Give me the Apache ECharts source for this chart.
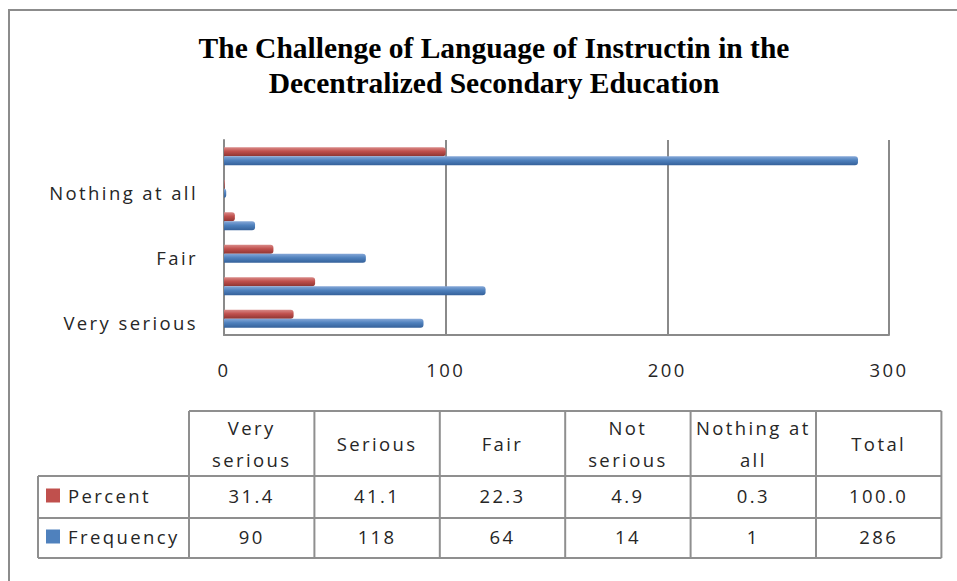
<!DOCTYPE html>
<html><head><meta charset="utf-8">
<script src="https://cdn.jsdelivr.net/npm/echarts@6/dist/echarts.min.js"></script>
<style>
html,body{margin:0;padding:0;background:#fff;}
#main{width:957px;height:581px;}
#main text{letter-spacing:2.4px;}
#main text[style*="Serif"]{letter-spacing:0;}
</style></head><body><div id="main"></div>
<script>
const titleLines = ['The Challenge of Language of Instructin in the', 'Decentralized Secondary Education'];
const categories = ['Very serious', 'Serious', 'Fair', 'Not serious', 'Nothing at all', 'Total'];
const tableHeaders = ['Very\nserious', 'Serious', 'Fair', 'Not\nserious', 'Nothing at\nall', 'Total'];
const seriesNames = ['Percent', 'Frequency'];
const percentValues = [31.4, 41.1, 22.3, 4.9, 0.3, 100.0];
const frequencyValues = [90, 118, 64, 14, 1, 286];
const percentLabels = ['31.4', '41.1', '22.3', '4.9', '0.3', '100.0'];
const frequencyLabels = ['90', '118', '64', '14', '1', '286'];
const xMin = 0, xMax = 300, xInterval = 100;
const seriesColors = ['#C0504D', '#4F81BD'];

const sansFont = 'Open Sans';
const textColor = '#262626';
const lineColor = '#8f8f8f';

function grad(c1, c2, c3) {
  return new echarts.graphic.LinearGradient(0, 0, 0, 1, [
    {offset: 0, color: c1}, {offset: 0.45, color: c2}, {offset: 1, color: c3}
  ]);
}
const barFills = [grad('#d98a88', '#c0504d', '#8e3532'), grad('#86a8d8', '#4f81bd', '#35619a')];

// table geometry
const tblLeft = 38, colStart = 189, colW = 125.4, nCols = tableHeaders.length;
const rowY = [411, 476, 518, 558];
const colEnd = colStart + colW * nCols;
const els = [];
els.push({type: 'rect', silent: true, z: 0, shape: {x: 9, y: 10, width: 1000, height: 1000},
  style: {fill: 'none', stroke: '#8c8c8c', lineWidth: 2}});
function hline(x1, x2, y) { els.push({type: 'line', silent: true, shape: {x1, y1: y, x2, y2: y}, style: {stroke: lineColor, lineWidth: 2}}); }
function vline(x, y1, y2) { els.push({type: 'line', silent: true, shape: {x1: x, y1, x2: x, y2}, style: {stroke: lineColor, lineWidth: 2}}); }
hline(colStart, colEnd, rowY[0]);
hline(tblLeft, colEnd, rowY[1]);
hline(tblLeft, colEnd, rowY[2]);
hline(tblLeft, colEnd, rowY[3]);
vline(tblLeft, rowY[1], rowY[3]);
for (let i = 0; i <= nCols; i++) vline(colStart + colW * i, rowY[0], rowY[3]);
function cellText(txt, cx, cy, align) {
  els.push({type: 'text', silent: true, x: cx, y: cy,
    style: {text: txt, font: '18.5px "' + sansFont + '"', fill: textColor, align: align || 'center', verticalAlign: 'middle', lineHeight: 32}});
}
tableHeaders.forEach((h, i) => cellText(h, colStart + colW * (i + 0.5), (rowY[0] + rowY[1]) / 2));
const rowData = [percentLabels, frequencyLabels];
rowData.forEach((row, r) => {
  const cy = (rowY[r + 1] + rowY[r + 2]) / 2 - 1.5;
  row.forEach((v, i) => cellText(v, colStart + colW * (i + 0.5), cy));
  els.push({type: 'rect', silent: true, shape: {x: 46, y: cy - 7, width: 14, height: 14}, style: {fill: seriesColors[r]}});
  cellText(seriesNames[r], 68, cy, 'left');
});

const option = {
  animation: false,
  backgroundColor: '#fff',
  title: {
    text: titleLines.join('\n'),
    left: 489, top: 25, textAlign: 'center',
    textStyle: {fontFamily: 'Liberation Serif', fontWeight: 'bold', fontSize: 29.5, lineHeight: 35, color: '#000'}
  },
  grid: {left: 224, right: 68, top: 140, bottom: 246, containLabel: false},
  xAxis: {
    type: 'value', min: xMin, max: xMax, interval: xInterval,
    axisLine: {show: true, lineStyle: {color: '#8a8a8a', width: 2}},
    axisTick: {show: false},
    splitLine: {show: true, lineStyle: {color: '#8a8a8a', width: 2}},
    axisLabel: {margin: 25, fontFamily: sansFont, fontSize: 18.5, color: textColor}
  },
  yAxis: {
    type: 'category', data: categories,
    axisLine: {show: true, lineStyle: {color: '#8a8a8a', width: 2}},
    axisTick: {show: false},
    axisLabel: {interval: 1, margin: 26, fontFamily: sansFont, fontSize: 18.5, color: textColor, verticalAlign: 'top', lineHeight: 7}
  },
  series: [
    {name: seriesNames[0], type: 'bar', data: percentValues, barWidth: 9, barGap: '0%',
      itemStyle: {color: barFills[0], borderRadius: [0, 3, 3, 0]}},
    {name: seriesNames[1], type: 'bar', data: frequencyValues, barWidth: 9, barGap: '0%',
      itemStyle: {color: barFills[1], borderRadius: [0, 3, 3, 0]}}
  ],
  graphic: {elements: els}
};
const chart = echarts.init(document.getElementById('main'), null, {renderer: 'svg'});
chart.setOption(option);
</script></body></html>
